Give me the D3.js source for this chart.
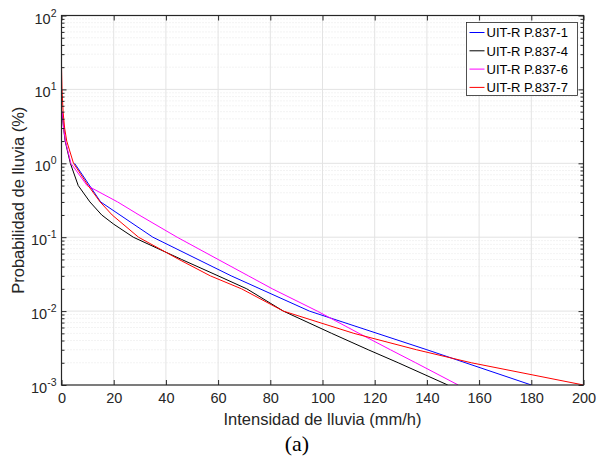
<!DOCTYPE html>
<html>
<head>
<meta charset="utf-8">
<script src="https://cdn.jsdelivr.net/npm/d3@7"></script>
<style>
  body { margin: 0; background: #fff; }
  svg { font-family: "Liberation Sans", Arial, sans-serif; }
</style>
</head>
<body>
<div id="chart"></div>
<script>
// data (probabilidad en %, intensidad en mm/h)
const series = ["UIT-R P.837-1", "UIT-R P.837-4", "UIT-R P.837-6", "UIT-R P.837-7"];
const colores = ["#0000ff", "#000000", "#ff00ff", "#ff0000"];

const prob1 = [1, 0.3, 0.1, 0.03, 0.01, 0.003, 0.001];
const lluvia1 = [5, 15, 35, 65, 95, 140, 180];

const prob4 = [5, 3, 2, 1, 0.5, 0.3, 0.2, 0.15, 0.1, 0.05, 0.03, 0.02, 0.01, 0.005, 0.003, 0.002, 0.001];
const lluvia4 = [0.2, 0.8, 1.4, 3.4, 6.4, 10.9, 15.4, 20, 27.5, 46, 60, 71, 85, 103.5, 117.5, 129, 148];

const prob6 = [5, 3, 2, 1, 0.5, 0.3, 0.2, 0.1, 0.05, 0.03, 0.02, 0.01, 0.005, 0.003, 0.002, 0.001];
const lluvia6 = [0.3, 0.8, 1.5, 3.6, 9.8, 21.5, 29.7, 44.3, 60, 71.6, 80.8, 98, 114, 126, 135.7, 152];

const prob7 = [20, 10, 5, 3, 2, 1, 0.5, 0.3, 0.2, 0.1, 0.05, 0.03, 0.02, 0.01, 0.005, 0.003, 0.002, 0.001];
const lluvia7 = [0, 0.2, 0.6, 1.2, 2.0, 4.6, 10.2, 14.8, 19.4, 29.5, 45, 57, 69, 85, 112, 136, 157, 200];

const xTicks = [0, 20, 40, 60, 80, 100, 120, 140, 160, 180, 200];
const yExps = [-3, -2, -1, 0, 1, 2];

const width = 597, height = 470;
const margin = { top: 15.5, right: 13.5, bottom: 85, left: 61.5 };
const w = width - margin.left - margin.right;
const h = height - margin.top - margin.bottom;

const svg = d3.select("#chart").append("svg")
    .attr("width", width)
    .attr("height", height);

const g = svg.append("g")
    .attr("transform", "translate(" + margin.left + "," + margin.top + ")");

const x = d3.scaleLinear().domain([0, 200]).range([0, w]);
const y = d3.scaleLog().domain([1e-3, 1e2]).range([h, 0]);

const ejeColor = "#262626";

// rejilla menor (log)
const menores = [];
yExps.slice(0, -1).forEach(e => {
    for (let k = 2; k <= 9; k++) menores.push(k * Math.pow(10, e));
});
g.append("g").selectAll("line").data(menores).join("line")
    .attr("x1", 0).attr("x2", w)
    .attr("y1", d => y(d)).attr("y2", d => y(d))
    .attr("stroke", "#d8d8d8")
    .attr("stroke-width", 0.6)
    .attr("stroke-dasharray", "1,2");

// rejilla mayor
g.append("g").selectAll("line").data(xTicks.slice(1, -1)).join("line")
    .attr("x1", d => x(d)).attr("x2", d => x(d))
    .attr("y1", 0).attr("y2", h)
    .attr("stroke", "#e3e3e3").attr("stroke-width", 1);
g.append("g").selectAll("line").data(yExps.slice(1, -1)).join("line")
    .attr("x1", 0).attr("x2", w)
    .attr("y1", d => y(Math.pow(10, d))).attr("y2", d => y(Math.pow(10, d)))
    .attr("stroke", "#e3e3e3").attr("stroke-width", 1);

// curvas
const datos = [
    prob1.map((p, i) => [lluvia1[i], p]),
    prob4.map((p, i) => [lluvia4[i], p]),
    prob6.map((p, i) => [lluvia6[i], p]),
    prob7.map((p, i) => [lluvia7[i], p])
];
const linea = d3.line().x(d => x(d[0])).y(d => y(d[1]));

svg.append("defs").append("clipPath").attr("id", "clip")
    .append("rect").attr("width", w).attr("height", h);

g.append("g").attr("clip-path", "url(#clip)")
    .selectAll("path").data(datos).join("path")
    .attr("d", linea)
    .attr("fill", "none")
    .attr("stroke", (d, i) => colores[i])
    .attr("stroke-width", 1);

// ejes (caja con marcas hacia dentro)
const axB = d3.axisBottom(x).tickValues(xTicks).tickSizeInner(-5).tickSizeOuter(0).tickPadding(8);
const axT = d3.axisTop(x).tickValues(xTicks).tickSizeInner(-5).tickSizeOuter(0).tickFormat("");
const gB = g.append("g").attr("transform", "translate(0," + h + ")").call(axB);
g.append("g").call(axT);

const majorY = yExps.map(e => Math.pow(10, e));
const axL = d3.axisLeft(y).tickValues(majorY).tickSizeInner(-5).tickSizeOuter(0).tickFormat("");
const axR = d3.axisRight(y).tickValues(majorY).tickSizeInner(-5).tickSizeOuter(0).tickFormat("");
const axLm = d3.axisLeft(y).tickValues(menores).tickSizeInner(-3).tickSizeOuter(0).tickFormat("");
const axRm = d3.axisRight(y).tickValues(menores).tickSizeInner(-3).tickSizeOuter(0).tickFormat("");
g.append("g").call(axL);
g.append("g").call(axLm);
g.append("g").attr("transform", "translate(" + w + ",0)").call(axR);
g.append("g").attr("transform", "translate(" + w + ",0)").call(axRm);

g.selectAll(".domain").remove();
g.selectAll(".tick line").attr("stroke", ejeColor).attr("stroke-width", 1);

gB.selectAll("text")
    .attr("font-size", 14.5)
    .attr("fill", ejeColor)
    .attr("font-family", "Liberation Sans, Arial, sans-serif");

// etiquetas y con superíndice
const ty = g.append("g").selectAll("text").data(yExps).join("text")
    .attr("x", -5)
    .attr("y", d => y(Math.pow(10, d)) + 8)
    .attr("text-anchor", "end")
    .attr("fill", ejeColor)
    .attr("font-size", 14.5);
ty.append("tspan").text("10");
ty.append("tspan").attr("dy", -7).attr("font-size", 10.5).text(d => d);

// caja
g.append("rect")
    .attr("width", w).attr("height", h)
    .attr("fill", "none")
    .attr("stroke", ejeColor)
    .attr("stroke-width", 1.2);

// títulos
svg.append("text")
    .attr("x", margin.left + w / 2)
    .attr("y", 425)
    .attr("text-anchor", "middle")
    .attr("font-size", 16.5)
    .attr("fill", ejeColor)
    .text("Intensidad de lluvia (mm/h)");

svg.append("text")
    .attr("transform", "translate(24," + (margin.top + h / 2) + ") rotate(-90)")
    .attr("text-anchor", "middle")
    .attr("font-size", 16.5)
    .attr("fill", ejeColor)
    .text("Probabilidad de lluvia (%)");

svg.append("text")
    .attr("x", 297)
    .attr("y", 451)
    .attr("text-anchor", "middle")
    .attr("font-family", "Liberation Serif, 'Times New Roman', serif")
    .attr("font-size", 22)
    .attr("fill", "#000")
    .text("(a)");

// leyenda
const ley = svg.append("g").attr("transform", "translate(466.5,22.5)");
ley.append("rect")
    .attr("width", 111).attr("height", 73)
    .attr("fill", "#fff")
    .attr("stroke", ejeColor)
    .attr("stroke-width", 0.8);
series.forEach((s, i) => {
    const yy = 10 + i * 18.3;
    ley.append("line")
        .attr("x1", 3).attr("x2", 18)
        .attr("y1", yy).attr("y2", yy)
        .attr("stroke", colores[i]).attr("stroke-width", 1);
    ley.append("text")
        .attr("x", 20).attr("y", yy + 4.7)
        .attr("font-size", 13)
        .attr("fill", "#000")
        .text(s);
});
</script>
</body>
</html>
